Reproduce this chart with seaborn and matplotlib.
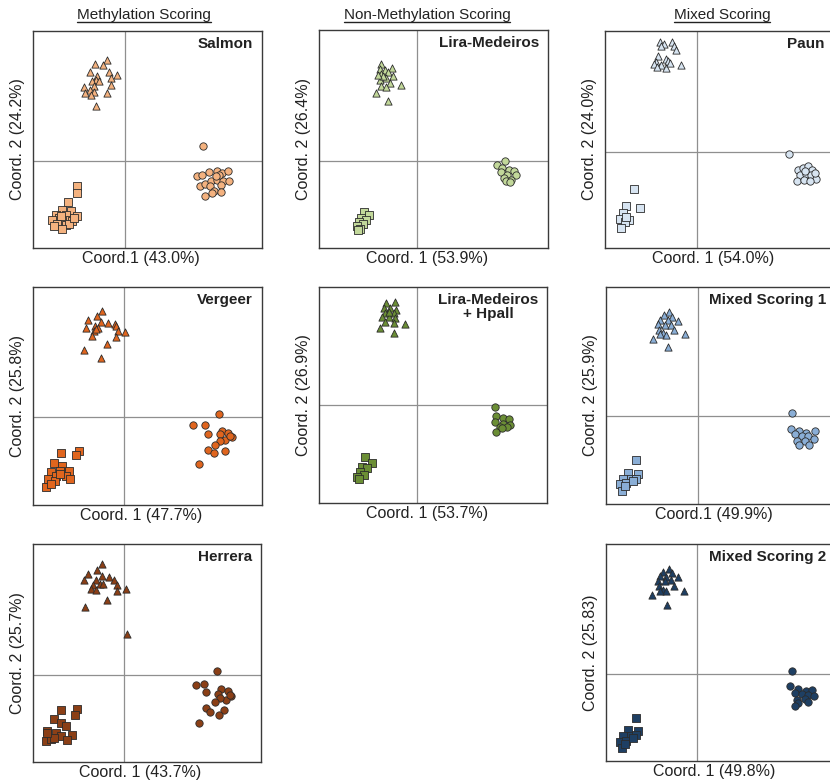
import matplotlib
matplotlib.use("Agg")
import matplotlib.pyplot as plt
from matplotlib.lines import Line2D
import seaborn as sns
import pandas as pd

sns.set_style("white")
plt.rcParams["font.family"] = ["Liberation Sans", "DejaVu Sans"]

# ---------------- PCoA coordinates (Coord. 1, Coord. 2) per scoring method ----------------
# Salmon
salmon_tri_x = [-0.18, -0.30, -0.22, -0.35, -0.16, -0.08, -0.28, -0.14, -0.29, -0.33, -0.26, -0.31, -0.41, -0.14, -0.35, -0.40, -0.31, -0.34, -0.18, -0.29]
salmon_tri_y = [1.01, 0.97, 0.96, 0.89, 0.89, 0.86, 0.85, 0.83, 0.81, 0.80, 0.80, 0.75, 0.74, 0.76, 0.71, 0.68, 0.69, 0.66, 0.68, 0.55]
salmon_cir_x = [0.78, 0.72, 0.77, 0.84, 0.92, 0.97, 1.03, 0.75, 0.80, 0.86, 0.92, 0.98, 1.04, 0.85, 0.96, 0.89, 0.96, 0.80, 0.87, 0.94, 0.91]
salmon_cir_y = [0.15, -0.15, -0.14, -0.11, -0.10, -0.12, -0.10, -0.25, -0.23, -0.20, -0.19, -0.20, -0.20, -0.25, -0.24, -0.30, -0.31, -0.35, -0.32, -0.14, -0.15]
salmon_sq_x = [-0.48, -0.48, -0.57, -0.63, -0.54, -0.69, -0.59, -0.48, -0.66, -0.58, -0.73, -0.63, -0.53, -0.68, -0.59, -0.71, -0.56, -0.63, -0.64, -0.51]
salmon_sq_y = [-0.25, -0.32, -0.41, -0.49, -0.50, -0.54, -0.54, -0.55, -0.57, -0.59, -0.59, -0.60, -0.60, -0.63, -0.64, -0.65, -0.63, -0.68, -0.55, -0.57]

# Lira-Medeiros
lira_tri_x = [-0.36, -0.25, -0.37, -0.32, -0.29, -0.36, -0.24, -0.31, -0.37, -0.27, -0.16, -0.36, -0.31, -0.41, -0.29, -0.34, -0.39]
lira_tri_y = [0.97, 0.93, 0.92, 0.91, 0.89, 0.87, 0.85, 0.83, 0.81, 0.78, 0.76, 0.75, 0.74, 0.68, 0.60, 0.85, 0.86]
lira_cir_x = [0.87, 0.79, 0.84, 0.91, 0.96, 0.83, 0.89, 0.98, 0.86, 0.93, 0.88, 0.92]
lira_cir_y = [0.00, -0.04, -0.07, -0.09, -0.10, -0.11, -0.14, -0.14, -0.17, -0.19, -0.20, -0.21]
lira_sq_x = [-0.53, -0.48, -0.56, -0.51, -0.58, -0.54, -0.60, -0.57, -0.59]
lira_sq_y = [-0.51, -0.54, -0.57, -0.59, -0.61, -0.63, -0.65, -0.68, -0.69]

# Paun
paun_tri_x = [-0.37, -0.33, -0.25, -0.36, -0.23, -0.21, -0.39, -0.31, -0.41, -0.29, -0.16, -0.43, -0.36, -0.31, -0.40, -0.27]
paun_tri_y = [1.10, 1.08, 1.10, 1.06, 1.06, 1.02, 0.96, 0.93, 0.90, 0.91, 0.87, 0.88, 0.87, 0.84, 0.85, 0.89]
paun_cir_x = [0.92, 1.01, 1.06, 1.11, 1.15, 1.03, 1.09, 1.14, 1.19, 1.00, 1.07, 1.13, 1.18, 1.08]
paun_cir_y = [-0.02, -0.18, -0.16, -0.14, -0.18, -0.23, -0.22, -0.23, -0.27, -0.29, -0.28, -0.29, -0.21, -0.19]
paun_sq_x = [-0.63, -0.71, -0.57, -0.74, -0.77, -0.68, -0.72, -0.76, -0.71]
paun_sq_y = [-0.37, -0.54, -0.56, -0.61, -0.67, -0.68, -0.70, -0.76, -0.65]

# Vergeer
verg_tri_x = [-0.22, -0.27, -0.36, -0.23, -0.16, -0.09, -0.29, -0.38, -0.26, -0.08, -0.06, -0.30, -0.32, 0.01, -0.08, -0.17, -0.40, -0.23, -0.28]
verg_tri_y = [1.06, 1.01, 0.97, 0.95, 0.94, 0.93, 0.91, 0.89, 0.89, 0.91, 0.86, 0.86, 0.81, 0.85, 0.80, 0.73, 0.67, 0.59, 0.88]
verg_cir_x = [0.95, 0.69, 0.81, 0.84, 0.98, 1.04, 0.96, 1.08, 1.01, 0.96, 0.91, 0.84, 1.01, 0.90, 0.75, 1.06]
verg_cir_y = [0.03, -0.08, -0.08, -0.17, -0.14, -0.16, -0.17, -0.20, -0.23, -0.24, -0.28, -0.33, -0.34, -0.36, -0.47, -0.19]
verg_sq_x = [-0.63, -0.45, -0.48, -0.70, -0.62, -0.73, -0.64, -0.55, -0.68, -0.58, -0.76, -0.69, -0.54, -0.78, -0.73, -0.64]
verg_sq_y = [-0.36, -0.34, -0.38, -0.46, -0.49, -0.55, -0.54, -0.54, -0.59, -0.59, -0.62, -0.64, -0.62, -0.70, -0.67, -0.57]

# Lira-Medeiros + Hpall
hpall_tri_x = [-0.31, -0.22, -0.33, -0.27, -0.21, -0.32, -0.23, -0.35, -0.28, -0.22, -0.32, -0.23, -0.12, -0.37, -0.23, -0.28]
hpall_tri_y = [1.02, 1.03, 0.97, 0.97, 0.95, 0.92, 0.92, 0.88, 0.88, 0.87, 0.83, 0.82, 0.81, 0.77, 0.72, 0.93]
hpall_cir_x = [0.78, 0.79, 0.86, 0.92, 0.78, 0.86, 0.93, 0.83, 0.90, 0.79, 0.85]
hpall_cir_y = [-0.02, -0.11, -0.13, -0.14, -0.17, -0.19, -0.20, -0.22, -0.22, -0.27, -0.23]
hpall_sq_x = [-0.52, -0.45, -0.55, -0.50, -0.57, -0.53, -0.60, -0.58]
hpall_sq_y = [-0.52, -0.58, -0.62, -0.63, -0.67, -0.70, -0.72, -0.74]

# Mixed Scoring 1
mix1_tri_x = [-0.29, -0.34, -0.26, -0.38, -0.30, -0.20, -0.40, -0.33, -0.27, -0.39, -0.24, -0.35, -0.32, -0.45, -0.13, -0.30, -0.38]
mix1_tri_y = [1.05, 1.02, 1.00, 0.97, 0.97, 0.96, 0.93, 0.92, 0.92, 0.87, 0.87, 0.84, 0.82, 0.78, 0.83, 0.70, 0.83]
mix1_cir_x = [0.94, 0.93, 1.01, 1.08, 1.17, 0.97, 1.04, 1.10, 1.16, 0.99, 1.07, 1.01, 1.11]
mix1_cir_y = [0.03, -0.13, -0.15, -0.17, -0.15, -0.18, -0.20, -0.20, -0.23, -0.25, -0.25, -0.29, -0.29]
mix1_sq_x = [-0.62, -0.70, -0.60, -0.75, -0.67, -0.62, -0.78, -0.72, -0.65, -0.76, -0.73]
mix1_sq_y = [-0.44, -0.57, -0.58, -0.63, -0.63, -0.63, -0.68, -0.67, -0.65, -0.75, -0.70]

# Herrera
herr_tri_x = [-0.22, -0.36, -0.27, -0.22, -0.40, -0.15, -0.10, -0.28, -0.31, -0.24, -0.07, -0.21, -0.33, -0.28, -0.07, 0.02, -0.17, -0.39, 0.03]
herr_tri_y = [1.11, 1.01, 1.05, 0.99, 0.95, 0.98, 0.95, 0.95, 0.90, 0.91, 0.90, 0.91, 0.86, 0.85, 0.84, 0.86, 0.75, 0.68, 0.41]
herr_cir_x = [0.94, 0.73, 0.81, 0.83, 0.98, 1.05, 0.95, 1.08, 1.03, 0.97, 0.92, 0.83, 1.01, 0.87, 0.96, 0.76, 1.07]
herr_cir_y = [0.04, -0.10, -0.09, -0.17, -0.14, -0.16, -0.19, -0.21, -0.25, -0.23, -0.27, -0.33, -0.35, -0.37, -0.40, -0.48, -0.20]
herr_sq_x = [-0.63, -0.47, -0.49, -0.70, -0.63, -0.77, -0.68, -0.58, -0.52, -0.78, -0.73, -0.63, -0.57, -0.70, -0.77]
herr_sq_y = [-0.35, -0.34, -0.40, -0.44, -0.48, -0.56, -0.58, -0.51, -0.60, -0.66, -0.64, -0.61, -0.65, -0.63, -0.58]

# Mixed Scoring 2
mix2_tri_x = [-0.28, -0.34, -0.25, -0.37, -0.31, -0.19, -0.39, -0.32, -0.26, -0.38, -0.23, -0.34, -0.31, -0.45, -0.13, -0.30, -0.37]
mix2_tri_y = [1.05, 1.02, 1.01, 0.98, 0.97, 0.97, 0.93, 0.93, 0.94, 0.88, 0.88, 0.84, 0.83, 0.79, 0.83, 0.69, 0.83]
mix2_cir_x = [0.95, 0.93, 1.01, 1.09, 1.15, 0.98, 1.05, 1.11, 1.17, 1.00, 1.08, 1.01, 1.11, 0.98]
mix2_cir_y = [0.03, -0.12, -0.15, -0.17, -0.16, -0.19, -0.20, -0.21, -0.22, -0.26, -0.25, -0.29, -0.28, -0.32]
mix2_sq_x = [-0.61, -0.69, -0.59, -0.74, -0.66, -0.61, -0.77, -0.71, -0.64, -0.75, -0.72]
mix2_sq_y = [-0.44, -0.56, -0.57, -0.62, -0.62, -0.61, -0.68, -0.67, -0.64, -0.74, -0.70]

column_titles = ["Methylation Scoring", "Non-Methylation Scoring", "Mixed Scoring"]

W, H = 830, 784
fig = plt.figure(figsize=(W / 100, H / 100), dpi=100)
fig.patch.set_facecolor("white")


def panel(box, xlim, ylim, name, color, xlab, ylab, data):
    left, top, right, bottom = box
    ax = fig.add_axes([left / W, 1 - bottom / H, (right - left) / W, (bottom - top) / H])
    ax.axvline(0, color="#8f8f8f", lw=0.9, zorder=1)
    ax.axhline(0, color="#8f8f8f", lw=0.9, zorder=1)
    (tx, ty), (cx, cy), (sx, sy) = data
    groups = [("tri", tx, ty, "^", 27), ("cir", cx, cy, "o", 28), ("sq", sx, sy, "s", 32)]
    for g, xs, ys, mk, size in groups:
        df = pd.DataFrame({"Coord1": xs, "Coord2": ys})
        sns.scatterplot(data=df, x="Coord1", y="Coord2", ax=ax, marker=mk, s=size,
                        color=color, edgecolor="#2b2b2b", linewidth=0.6,
                        legend=False, zorder=3)
    ax.set_xlim(*xlim)
    ax.set_ylim(*ylim)
    ax.set_xticks([])
    ax.set_yticks([])
    for sp in ax.spines.values():
        sp.set_color("#3a3a3a")
        sp.set_linewidth(1.0)
    ax.set_xlabel(xlab, fontsize=11.5, color="#222222")
    ax.xaxis.set_label_coords(0.472, -0.012)
    ax.set_ylabel(ylab, fontsize=11.5, color="#222222", labelpad=6)
    ax.text(1 - 9 / (right - left), 1 - 6 / (bottom - top), name, transform=ax.transAxes,
            ha="right", va="top", fontsize=11, fontweight="bold", color="#222222",
            multialignment="center", linespacing=1.0)
    return ax


panel((33, 31, 262, 248), (-0.92, 1.37), (-0.87, 1.30), "Salmon", "#F4B27F",
      "Coord.1 (43.0%)", "Coord. 2 (24.2%)",
      [(salmon_tri_x, salmon_tri_y), (salmon_cir_x, salmon_cir_y), (salmon_sq_x, salmon_sq_y)])
panel((319, 30, 548, 248), (-0.98, 1.30), (-0.87, 1.31), "Lira-Medeiros", "#C2D89A",
      "Coord. 1 (53.9%)", "Coord. 2 (26.4%)",
      [(lira_tri_x, lira_tri_y), (lira_cir_x, lira_cir_y), (lira_sq_x, lira_sq_y)])
panel((605, 31, 834, 248), (-0.92, 1.37), (-0.96, 1.21), "Paun", "#D7E4F1",
      "Coord. 1 (54.0%)", "Coord. 2 (24.0%)",
      [(paun_tri_x, paun_tri_y), (paun_cir_x, paun_cir_y), (paun_sq_x, paun_sq_y)])
panel((33, 287, 262, 505), (-0.91, 1.38), (-0.88, 1.30), "Vergeer", "#E0651E",
      "Coord. 1 (47.7%)", "Coord. 2 (25.8%)",
      [(verg_tri_x, verg_tri_y), (verg_cir_x, verg_cir_y), (verg_sq_x, verg_sq_y)])
panel((319, 287, 547, 503), (-0.98, 1.30), (-0.98, 1.18), "Lira-Medeiros\n+ Hpall", "#6B8E35",
      "Coord. 1 (53.7%)", "Coord. 2 (26.9%)",
      [(hpall_tri_x, hpall_tri_y), (hpall_cir_x, hpall_cir_y), (hpall_sq_x, hpall_sq_y)])
panel((606, 287, 835, 504), (-0.92, 1.37), (-0.88, 1.30), "Mixed Scoring 1", "#8AAED6",
      "Coord.1 (49.9%)", "Coord. 2 (25.9%)",
      [(mix1_tri_x, mix1_tri_y), (mix1_cir_x, mix1_cir_y), (mix1_sq_x, mix1_sq_y)])
panel((33, 544, 261, 762), (-0.91, 1.38), (-0.87, 1.31), "Herrera", "#8B3F16",
      "Coord. 1 (43.7%)", "Coord. 2 (25.7%)",
      [(herr_tri_x, herr_tri_y), (herr_cir_x, herr_cir_y), (herr_sq_x, herr_sq_y)])
panel((606, 544, 835, 761), (-0.91, 1.38), (-0.87, 1.30), "Mixed Scoring 2", "#1E3F63",
      "Coord. 1 (49.8%)", "Coord. 2 (25.83)",
      [(mix2_tri_x, mix2_tri_y), (mix2_cir_x, mix2_cir_y), (mix2_sq_x, mix2_sq_y)])

# underlined column headings
title_x = [144, 427, 722]
titles = []
for t, cx in zip(column_titles, title_x):
    titles.append(fig.text(cx / W, 1 - 19 / H, t, ha="center", va="baseline",
                           fontsize=11, color="#222222"))
fig.canvas.draw()
renderer = fig.canvas.get_renderer()
inv = fig.transFigure.inverted()
for txt in titles:
    bb = txt.get_window_extent(renderer)
    (x0, _), (x1, _) = inv.transform([(bb.x0, 0), (bb.x1, 0)])
    yl = 1 - 21.5 / H
    fig.add_artist(Line2D([x0, x1], [yl, yl], transform=fig.transFigure,
                          color="#222222", lw=1.0))

fig.savefig("out.png", dpi=100)
